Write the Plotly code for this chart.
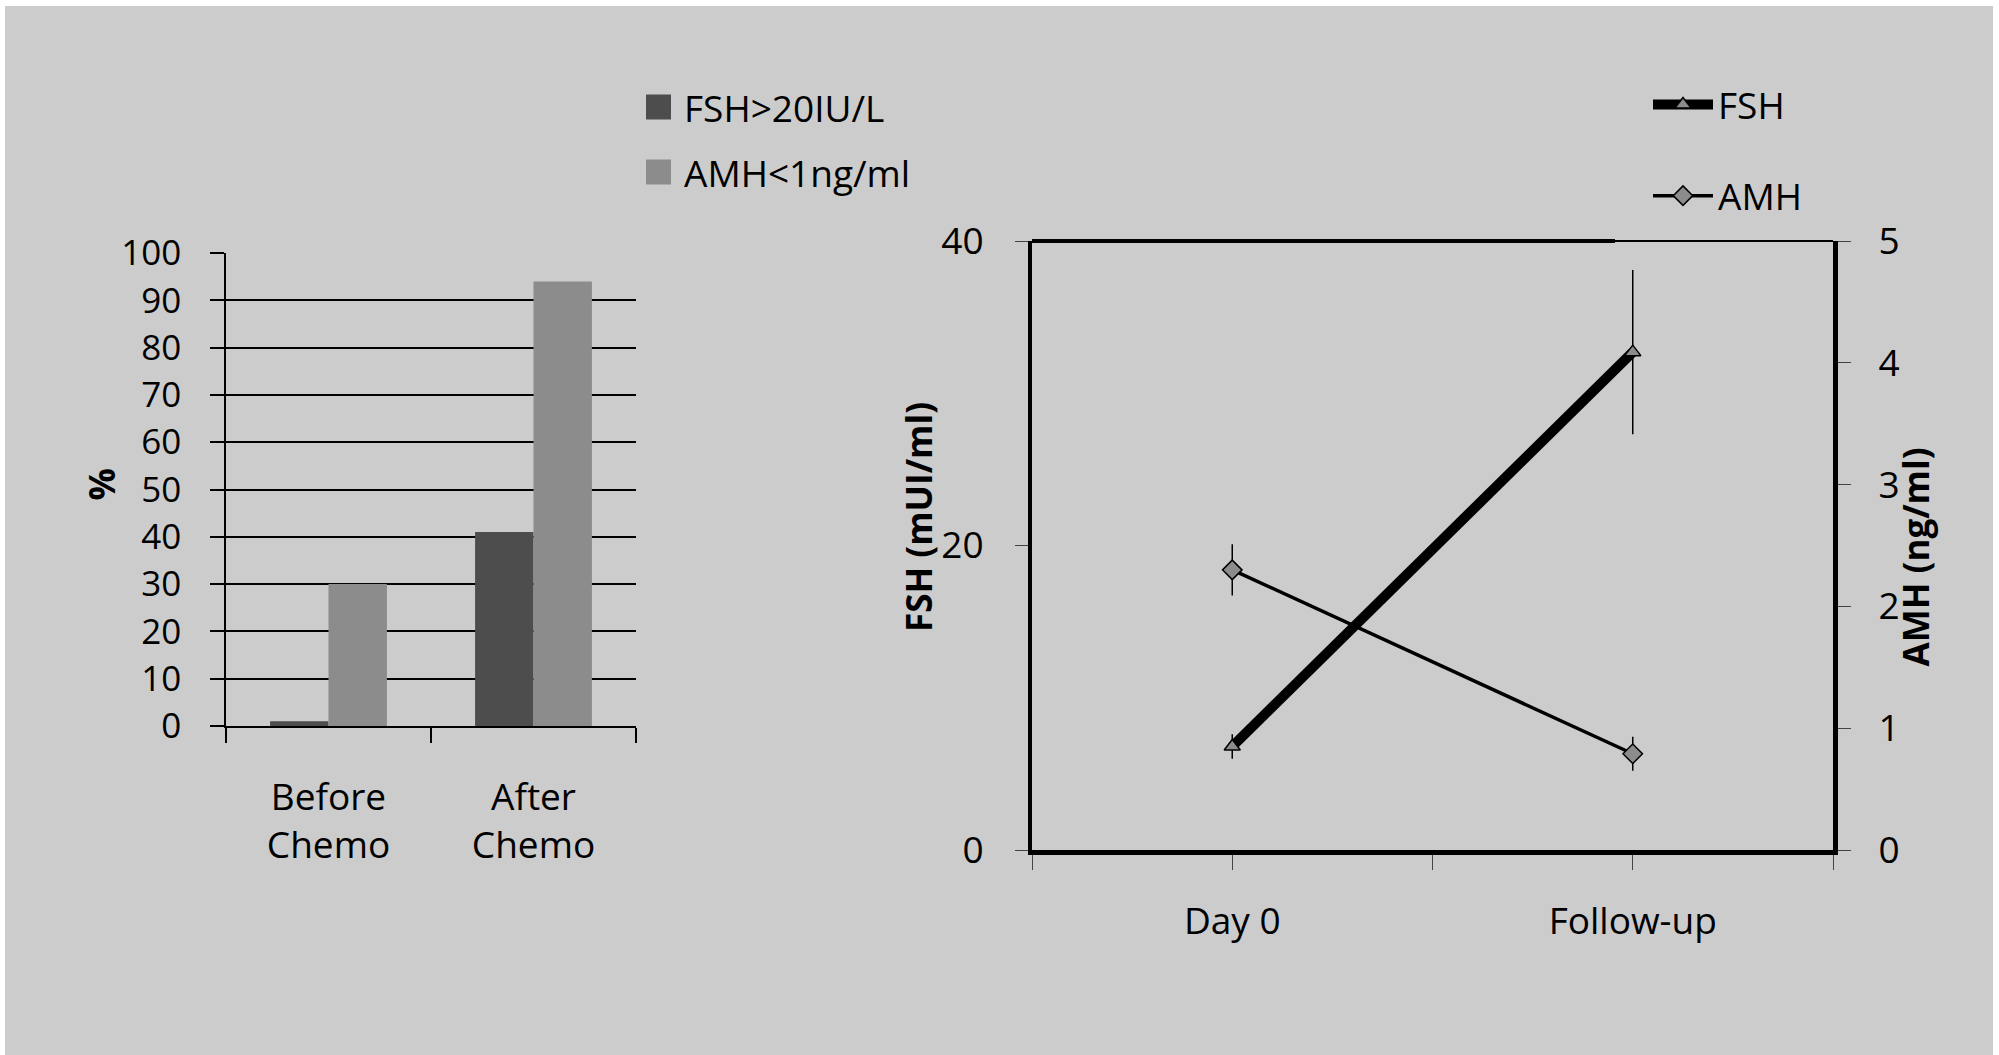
import plotly.graph_objects as go

W, H = 1999, 1055

# left panel: % of patients
groups = ['Before<br>Chemo', 'After<br>Chemo']
bar_names = ['FSH>20IU/L', 'AMH<1ng/ml']
fsh_pct = [1, 41]
amh_pct = [30, 94]
bar_colors = ['#4d4d4d', '#8c8c8c']

# right panel: hormone levels
visits = ['Day 0', 'Follow-up']
fsh_mean = [6.8, 32.7]
fsh_err = [0.8, 5.4]
amh_mean = [2.30, 0.79]
amh_err = [0.21, 0.14]

FONT = 'Open Sans'


def px(x):
    return x / W


def py(y):
    return 1 - y / H


fig = go.Figure()

# bars
for name, vals, col in zip(bar_names, [fsh_pct, amh_pct], bar_colors):
    fig.add_trace(go.Bar(
        x=groups, y=vals, name=name, marker_color=col,
        marker_line_width=0, xaxis='x', yaxis='y', showlegend=False
    ))

# lines
x_idx = list(range(len(visits)))
fig.add_trace(go.Scatter(
    x=x_idx, y=fsh_mean, name='FSH', mode='lines+markers',
    line=dict(color='black', width=10),
    marker=dict(symbol='triangle-up', size=14, color='#8c8c8c',
                line=dict(color='black', width=1.5)),
    error_y=dict(type='data', array=fsh_err, color='black', thickness=1.5, width=0),
    xaxis='x2', yaxis='y2', legend='legend2', legendgroup='fsh'
))
fig.add_trace(go.Scatter(
    x=x_idx, y=amh_mean, name='AMH', mode='lines+markers',
    line=dict(color='black', width=3.5),
    marker=dict(symbol='diamond', size=15, color='#8c8c8c',
                line=dict(color='black', width=1.5)),
    error_y=dict(type='data', array=amh_err, color='black', thickness=1.5, width=0),
    xaxis='x2', yaxis='y3', legend='legend2', legendgroup='amh'
))

shapes = [
    # grey panel with thin white frame
    dict(type='rect', xref='paper', yref='paper', x0=px(5), x1=px(1993), y0=0, y1=py(6),
         fillcolor='#cccccc', line_width=0, layer='below'),
    # top border of right plot: heavy part then thin part
    dict(type='line', xref='paper', yref='paper', x0=px(1032), x1=px(1615), y0=py(241), y1=py(241),
         line=dict(color='black', width=4)),
    dict(type='line', xref='paper', yref='paper', x0=px(1615), x1=px(1833), y0=py(241), y1=py(241),
         line=dict(color='black', width=2)),
]
annotations = []

# hand-made legend for the bar chart (big squares)
for i, (name, col) in enumerate(zip(bar_names, bar_colors)):
    yc = 107 + 65 * i
    shapes.append(dict(type='rect', xref='paper', yref='paper',
                       x0=px(646), x1=px(671), y0=py(yc + 12.5), y1=py(yc - 12.5),
                       fillcolor=col, line_width=0))
    annotations.append(dict(text=name, xref='paper', yref='paper', x=px(682), y=py(yc),
                            xanchor='left', yanchor='middle', showarrow=False,
                            font=dict(size=37)))

# axis titles
annotations += [
    dict(text='<b>%</b>', xref='paper', yref='paper', x=px(75), y=py(485), textangle=-90,
         showarrow=False, font=dict(size=36)),
    dict(text='<b>FSH (mUI/ml)</b>', xref='paper', yref='paper', x=px(918), y=py(517),
         textangle=-90, showarrow=False, font=dict(size=35)),
    dict(text='<b>AMH (ng/ml)</b>', xref='paper', yref='paper', x=px(1940), y=py(557),
         textangle=-90, showarrow=False, font=dict(size=35)),
]

fig.update_layout(
    width=W, height=H,
    margin=dict(l=0, r=0, t=0, b=0, autoexpand=False),
    paper_bgcolor='white',
    plot_bgcolor='rgba(0,0,0,0)',
    font=dict(family=FONT, size=37, color='black'),
    barmode='group',
    bargap=0.43,
    bargroupgap=0,
    shapes=shapes,
    annotations=annotations,
    xaxis=dict(
        domain=[px(226), px(636)],
        type='category',
        tickson='boundaries',
        ticks='outside', ticklen=15, tickcolor='black', tickwidth=1.5,
        showline=True, linecolor='black', linewidth=1.5,
        showgrid=False, ticklabelstandoff=38, automargin=False,
        anchor='y'
    ),
    yaxis=dict(
        domain=[py(726), py(253)],
        range=[0, 100], dtick=10,
        tickfont=dict(size=35),
        ticks='outside', ticklen=14, tickcolor='black', tickwidth=1.5,
        showline=True, linecolor='black', linewidth=1.5,
        showgrid=True, gridcolor='black', gridwidth=1.5,
        zeroline=False, ticklabelstandoff=22, automargin=False,
        anchor='x'
    ),
    xaxis2=dict(
        domain=[px(1032), px(1833)],
        range=[-0.5, len(visits) - 0.5],
        tickvals=[-0.5, 0, 0.5, 1, 1.5],
        ticktext=['', visits[0], '', visits[1], ''],
        ticks='outside', ticklen=15, tickcolor='#444444', tickwidth=1.2,
        showline=True, linecolor='black', linewidth=5,
        showgrid=False, zeroline=False, ticklabelstandoff=20, automargin=False,
        anchor='y2'
    ),
    yaxis2=dict(
        domain=[py(850), py(241)],
        range=[0, 40], tickvals=[0, 20, 40],
        ticks='outside', ticklen=13, tickcolor='#444444', tickwidth=1.2,
        showline=True, linecolor='black', linewidth=4,
        showgrid=False, zeroline=False, ticklabelstandoff=24, automargin=False,
        anchor='x2'
    ),
    yaxis3=dict(
        domain=[py(850), py(241)],
        range=[0, 5], dtick=1,
        overlaying='y2', side='right',
        ticks='outside', ticklen=13, tickcolor='#444444', tickwidth=1.2,
        showline=True, linecolor='black', linewidth=5,
        showgrid=False, zeroline=False, ticklabelstandoff=20, automargin=False,
        anchor='x2'
    ),
    legend2=dict(
        x=px(1648), y=py(74), xanchor='left', yanchor='top',
        bgcolor='rgba(0,0,0,0)', font=dict(size=37),
        itemwidth=60, tracegroupgap=40
    ),
)

# drop the browser's default 8px body margin so the figure sits at (0, 0)
fig.write_html("out.html", config={'displayModeBar': False},
               post_script="document.body.style.margin='0px';")
